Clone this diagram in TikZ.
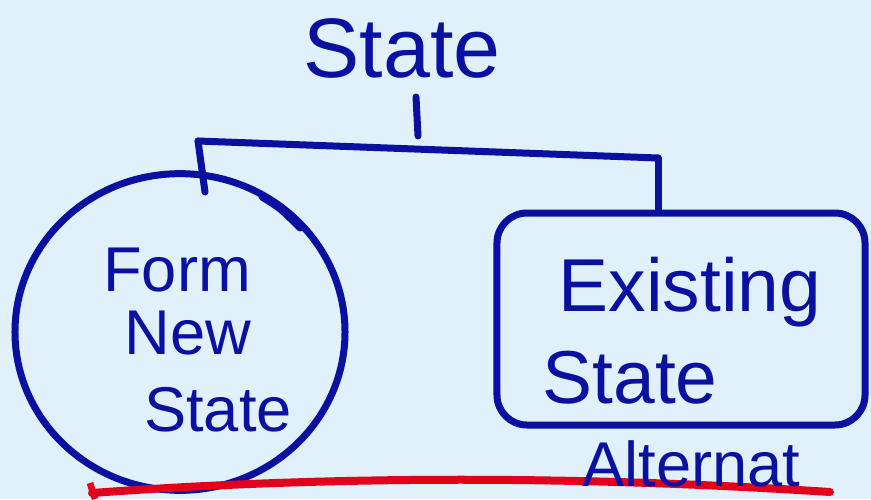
\documentclass[tikz,border=0pt]{standalone}
\usepackage{fontspec}
\setmainfont{Liberation Sans}
\usetikzlibrary{shapes.geometric}
\definecolor{ink}{HTML}{0A10A0}
\definecolor{paper}{HTML}{E0F1FB}
\definecolor{redink}{HTML}{E3001B}
\tikzset{
  pen/.style={draw=ink, line width=2.1mm, line cap=round, line join=round},
  word/.style={text=ink, inner sep=0pt, font=\fontsize{54}{54}\selectfont},
  bigword/.style={word, font=\fontsize{72}{72}\selectfont}
}
\begin{document}
\begin{tikzpicture}[x=0.03cm, y=-0.03cm]
   \useasboundingbox (0,0) rectangle (871,499);
   \clip (0,0) rectangle (871,499);
   \fill[paper] (0,0) rectangle (871,499);
   % top
   \node[bigword] (state) at (402,48) {State};
   \coordinate (tick1) at (416,97);
   \coordinate (tick2) at (418,136);
   \draw[pen] (tick1) -- (tick2);
   \coordinate (bl) at (198,141);
   \coordinate (br) at (658,158);
   \draw[pen] (bl) -- (br);
   % left branch
   \node[pen, ellipse, minimum width=9.9cm, minimum height=9.5cm] (newst) at (180,332) {};
   \coordinate (bld) at (205,192);
   \draw[pen] (bl) -- (bld);
   \draw[pen] (262,197) .. controls (280,208) .. (300,228);
   \node[word] (form) at (177,270) {Form};
   \node[word] (new) at (188,333) {New};
   \node[word] (nstate) at (218,410) {State};
   % right branch
   \node[pen, rectangle, rounded corners=0.9cm, minimum width=11.04cm, minimum height=6.36cm] (exist) at (681,319) {};
   \draw[pen] (br) -- (br |- exist.north);
   \node[word, font=\fontsize{64}{64}\selectfont] (existing) at (690,292) {Existing};
   \node[word, font=\fontsize{64}{64}\selectfont] (estate) at (630,378) {State};
   % bottom
   \coordinate (r1) at (92,493);
   \coordinate (r2) at (830,492);
   \draw[redink, line width=2.4mm, line cap=round] (r1) .. controls (350,474) and (600,477) .. (r2);
   \draw[redink, line width=2mm] (90,483) -- (95,499);
   \node[word, anchor=base west, font=\fontsize{54}{54}\selectfont] (alt) at (582,486) {Alternat};
\end{tikzpicture}
\end{document}
